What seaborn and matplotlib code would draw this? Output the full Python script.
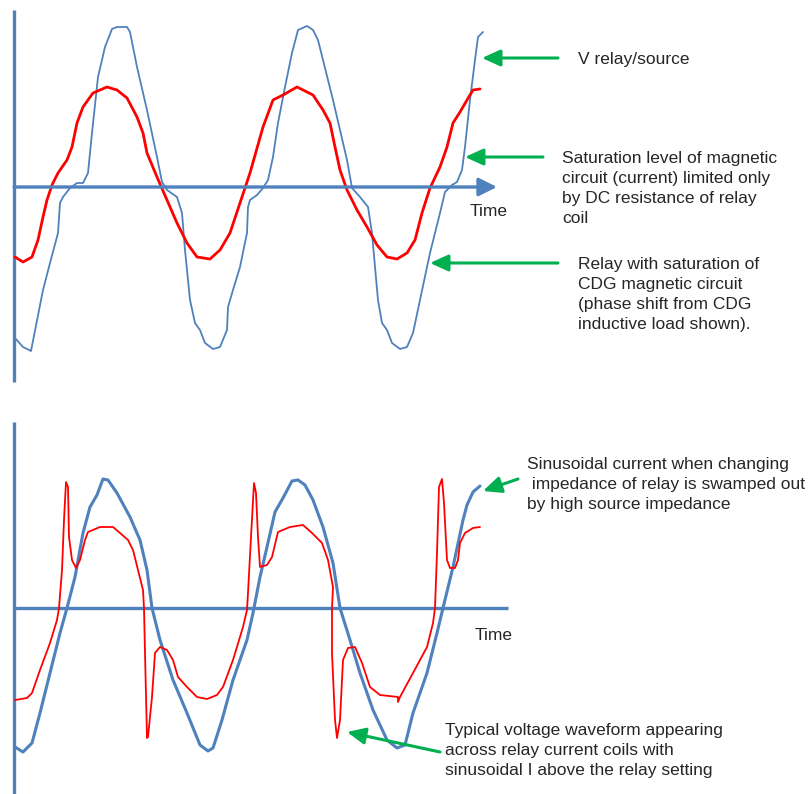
import matplotlib
matplotlib.use('Agg')
import matplotlib.pyplot as plt
import seaborn as sns

# colours used in the original drawing
BLUE = '#4F81BD'
RED = '#FF0000'
GREEN = '#00B050'

# ---- top panel: traced waveforms (pixel coordinates of the picture) ----
top_v_x = [15, 23, 31, 43, 50, 58, 60, 63, 70, 77, 83, 88, 92, 98, 105, 112, 117, 127, 130, 137,
           147, 157, 162, 167, 177, 182, 185, 190, 195, 200, 205, 213, 220, 227, 228, 233, 240,
           247, 248, 250, 257, 263, 268, 273, 278, 285, 292, 298, 307, 313, 318, 323, 333, 347,
           352, 360, 368, 372, 375, 378, 382, 387, 392, 400, 407, 413, 420, 430, 440, 445, 452,
           457, 462, 465, 470, 475, 478, 483]
top_v_y = [338, 347, 351, 290, 263, 233, 203, 197, 188, 183, 183, 173, 133, 77, 47, 29, 27, 27, 32, 67,
           110, 157, 182, 190, 197, 213, 250, 300, 323, 330, 343, 349, 347, 330, 307, 290, 267,
           233, 207, 200, 195, 188, 180, 157, 123, 87, 53, 30, 26, 30, 40, 60, 100, 160,
           188, 197, 207, 233, 267, 300, 323, 330, 343, 349, 347, 333, 300, 253, 213, 192, 185,
           182, 170, 147, 100, 60, 37, 32]

top_i_x = [15, 23, 32, 38, 43, 47, 52, 58, 67, 72, 77, 83, 93, 107, 117, 127, 137, 143, 147, 157,
           167, 177, 187, 197, 210, 220, 230, 240, 250, 263, 273, 283, 297, 303, 313, 323, 330,
           335, 340, 347, 357, 367, 377, 387, 397, 407, 415, 422, 430, 440, 447, 453, 460, 467,
           473, 480]
top_i_y = [257, 262, 257, 240, 217, 200, 185, 173, 160, 147, 123, 107, 93, 87, 90, 98, 117, 133, 153, 177,
           200, 223, 243, 257, 259, 250, 233, 203, 173, 127, 100, 95, 87, 90, 95, 110, 123,
           147, 170, 190, 210, 227, 245, 257, 259, 253, 240, 213, 188, 167, 147, 123, 112, 100,
           90, 89]

top_labels = ['V relay/source',
              'Saturation level of magnetic\ncircuit (current) limited only\nby DC resistance of relay\ncoil',
              'Relay with saturation of\nCDG magnetic circuit\n(phase shift from CDG\ninductive load shown).']
top_label_xy = [(578, 58), (562, 157), (578, 263)]
top_arrow_tip = [(482, 58), (465, 157), (430, 263)]
top_arrow_tail = [(558, 58), (543, 157), (558, 263)]

# ---- bottom panel ----
bot_i_x = [15, 23, 32, 40, 50, 60, 67, 75, 83, 90, 97, 103, 108, 117, 130, 140, 147, 152, 160, 173,
           187, 200, 208, 213, 222, 233, 247, 253, 260, 267, 275, 283, 292, 298, 305, 313, 323,
           333, 340, 350, 360, 373, 387, 397, 405, 413, 427, 437, 443, 453, 463, 467, 473, 480]
bot_i_y = [747, 752, 743, 713, 673, 633, 608, 577, 533, 507, 495, 479, 480, 493, 517, 540, 570, 608, 640, 680,
           713, 745, 751, 748, 720, 680, 640, 613, 577, 547, 512, 498, 481, 480, 485, 500, 527,
           563, 608, 640, 673, 710, 740, 748, 745, 713, 673, 633, 608, 567, 520, 505, 492, 486]

bot_v_x = [15, 27, 32, 40, 50, 57, 59, 62, 64, 66, 68, 69, 72, 76, 80, 85, 88, 100, 113, 120,
           128, 133, 138, 143, 144, 145, 147, 148, 152, 155, 160, 167, 173, 178, 187, 197, 207,
           217, 223, 233, 243, 247, 248, 251, 254, 256, 258, 260, 267, 272, 278, 290, 303, 312,
           322, 328, 333, 332, 332, 335, 337, 340, 343, 348, 355, 362, 370, 380, 398, 398, 400,
           413, 427, 433, 435, 437, 439, 442, 444, 447, 450, 455, 458, 460, 465, 473, 480]
bot_v_y = [700, 698, 693, 670, 643, 620, 608, 570, 520, 482, 487, 537, 560, 568, 560, 540, 532, 527, 527, 533,
           540, 550, 570, 590, 608, 653, 738, 737, 697, 653, 647, 650, 660, 677, 687, 697, 699,
           695, 687, 660, 627, 610, 593, 537, 483, 493, 537, 567, 565, 557, 532, 527, 525, 533,
           543, 560, 587, 608, 653, 720, 738, 720, 660, 648, 647, 663, 687, 695, 697, 702, 697,
           673, 647, 623, 608, 553, 487, 479, 503, 560, 568, 568, 560, 543, 533, 528, 527]

bot_labels = ['Sinusoidal current when changing\n impedance of relay is swamped out\nby high source impedance',
              'Typical voltage waveform appearing\nacross relay current coils with\nsinusoidal I above the relay setting']
bot_label_xy = [(527, 463), (445, 729)]
bot_arrow_tip = [(483, 491), (347, 732)]
bot_arrow_tail = [(518, 479), (440, 752)]

sns.set_style('white')
plt.rcParams['font.family'] = ['Liberation Sans', 'DejaVu Sans']

fig = plt.figure(figsize=(8.1, 7.94), dpi=100)
ax = fig.add_axes([0, 0, 1, 1])
ax.set_xlim(0, 810)
ax.set_ylim(794, 0)
ax.axis('off')

# axes of the two sketches
ax.plot([14, 14], [10, 382], color=BLUE, lw=2.4, solid_capstyle='butt')
ax.annotate('', xy=(497, 187), xytext=(14, 187),
            arrowprops=dict(arrowstyle='-|>,head_length=1.1,head_width=0.55', color=BLUE, lw=2.4,
                            shrinkA=0, shrinkB=0))
ax.plot([14, 14], [422, 794], color=BLUE, lw=2.4, solid_capstyle='butt')
ax.plot([14, 508], [608, 608], color=BLUE, lw=2.4, solid_capstyle='butt')

# waveforms
sns.lineplot(x=top_v_x, y=top_v_y, sort=False, estimator=None, color=BLUE, lw=1.3, ax=ax)
sns.lineplot(x=top_i_x, y=top_i_y, sort=False, estimator=None, color=RED, lw=2.0, ax=ax)
sns.lineplot(x=bot_i_x, y=bot_i_y, sort=False, estimator=None, color=BLUE, lw=2.2, ax=ax)
sns.lineplot(x=bot_v_x, y=bot_v_y, sort=False, estimator=None, color=RED, lw=1.3, ax=ax)

ax.text(470, 212, 'Time', fontsize=12.5, va='center', ha='left')
ax.text(475, 635, 'Time', fontsize=12.5, va='center', ha='left')

# first line of every note is centred on the given y
for txt, (tx, ty) in zip(top_labels + bot_labels, top_label_xy + bot_label_xy):
    ax.text(tx, ty - 6, txt, fontsize=12.5, va='top', ha='left', linespacing=1.41)

for tip, tail in zip(top_arrow_tip + bot_arrow_tip, top_arrow_tail + bot_arrow_tail):
    ax.annotate('', xy=tip, xytext=tail,
                arrowprops=dict(arrowstyle='-|>,head_length=1.1,head_width=0.5', color=GREEN,
                                lw=2.2, shrinkA=0, shrinkB=0))

fig.savefig('out.png', dpi=100)
plt.close(fig)
